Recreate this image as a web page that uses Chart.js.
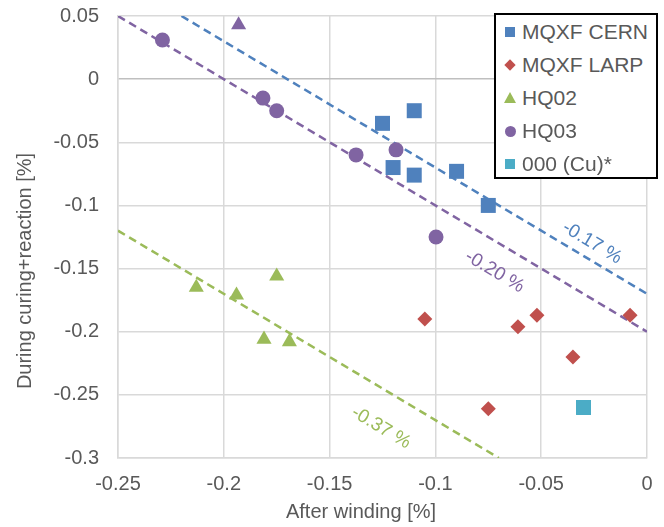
<!DOCTYPE html>
<html>
<head>
<meta charset="utf-8">
<script src="https://cdn.jsdelivr.net/npm/chart.js@4/dist/chart.umd.min.js"></script>
<style>
  html, body { margin: 0; padding: 0; background: #fff; }
  #wrap { position: relative; width: 664px; height: 527px; }
  #legend {
    position: absolute; left: 494px; top: 13px; width: 160px; height: 162px;
    border: 2px solid #000; background: #fff;
    font-family: "Liberation Sans", Arial, sans-serif; font-size: 21px; color: #595959;
  }
  #legend .row { position: relative; height: 33px; line-height: 33px; padding-left: 26px; white-space: nowrap; }
  #legend .mk { position: absolute; left: 9px; top: 50%; }
</style>
</head>
<body>
<div id="wrap">
  <canvas id="myChart" width="664" height="527"></canvas>
  <div id="legend"></div>
</div>
<script>
// series
const cernX = [-0.125, -0.110, -0.120, -0.110, -0.090, -0.075];
const cernY = [-0.035, -0.025, -0.070, -0.076, -0.073, -0.100];

const larpX = [-0.105, -0.061, -0.052, -0.008, -0.035, -0.075];
const larpY = [-0.190, -0.196, -0.187, -0.187, -0.220, -0.261];

const hq02X = [-0.213, -0.194, -0.175, -0.181, -0.169];
const hq02Y = [-0.165, -0.171, -0.156, -0.206, -0.208];

const hq03X = [-0.229, -0.1815, -0.175, -0.1375, -0.1186, -0.0997, -0.193];
const hq03Y = [0.031, -0.015, -0.025, -0.060, -0.056, -0.125, 0.043];

const cuX = [-0.030];
const cuY = [-0.260];

// trend lines (end points)
const trendCernX = [-0.22, 0];
const trendCernY = [0.05, -0.17];
const trendHq03X = [-0.25, 0];
const trendHq03Y = [0.05, -0.20];
const trendHq02X = [-0.25, -0.07];
const trendHq02Y = [-0.12, -0.30];

// trend labels
const trendLabels = ['-0.17 %', '-0.20 %', '-0.37 %'];
const trendLabelX = [-0.026, -0.072, -0.1257];
const trendLabelY = [-0.1296, -0.1525, -0.276];

// ticks
const xTickValues = [-0.25, -0.2, -0.15, -0.1, -0.05, 0];
const xTickLabels = ['-0.25', '-0.2', '-0.15', '-0.1', '-0.05', '0'];
const yTickValues = [-0.3, -0.25, -0.2, -0.15, -0.1, -0.05, 0, 0.05];
const yTickLabels = ['-0.3', '-0.25', '-0.2', '-0.15', '-0.1', '-0.05', '0', '0.05'];

const blue = '#4F81BD', red = '#C0504D', green = '#9BBB59', purple = '#8064A2', cyan = '#4BACC6';
const FONT = '"Liberation Sans", Arial, sans-serif';
const TXT = '#595959';

function pts(xs, ys) {
  return xs.map(function(x, i) { return {x: x, y: ys[i]}; });
}

function marker(label, xs, ys, color, style, radius) {
  return {
    label: label,
    data: pts(xs, ys),
    showLine: false,
    pointStyle: style,
    pointRadius: radius,
    pointHoverRadius: radius,
    backgroundColor: color,
    borderColor: color,
    borderWidth: 0,
    order: 0
  };
}

function trend(xs, ys, color) {
  return {
    label: 'trend',
    data: pts(xs, ys),
    showLine: true,
    pointRadius: 0,
    borderColor: color,
    borderWidth: 2.5,
    borderDash: [8, 5],
    fill: false,
    order: 10
  };
}

const hq03Styles = hq03X.map(function(x, i) { return i === 6 ? 'triangle' : 'circle'; });
const hq03Radius = hq03X.map(function(x, i) { return i === 6 ? 8.7 : 7.5; });

const legendItems = [
  {label: 'MQXF CERN', color: blue, shape: 'square'},
  {label: 'MQXF LARP', color: red, shape: 'diamond'},
  {label: 'HQ02', color: green, shape: 'triangle'},
  {label: 'HQ03', color: purple, shape: 'circle'},
  {label: '000 (Cu)*', color: cyan, shape: 'square'}
];

const data = {
  datasets: [
    marker('MQXF CERN', cernX, cernY, blue, 'rect', 10.6),
    marker('MQXF LARP', larpX, larpY, red, 'rectRot', 7.5),
    marker('HQ02', hq02X, hq02Y, green, 'triangle', 8.7),
    marker('HQ03', hq03X, hq03Y, purple, hq03Styles, hq03Radius),
    marker('000 (Cu)*', cuX, cuY, cyan, 'rect', 10.6),
    trend(trendCernX, trendCernY, blue),
    trend(trendHq03X, trendHq03Y, purple),
    trend(trendHq02X, trendHq02Y, green)
  ]
};

// text along trend lines + axis titles
const annotations = {
  id: 'annotations',
  afterDatasetsDraw: function(chart) {
    const ctx = chart.ctx, xs = chart.scales.x, ys = chart.scales.y;
    const lines = [[trendCernX, trendCernY, blue], [trendHq03X, trendHq03Y, purple], [trendHq02X, trendHq02Y, green]];
    ctx.save();
    ctx.font = '19px ' + FONT;
    ctx.textAlign = 'center';
    ctx.textBaseline = 'middle';
    lines.forEach(function(l, i) {
      const dx = xs.getPixelForValue(l[0][1]) - xs.getPixelForValue(l[0][0]);
      const dy = ys.getPixelForValue(l[1][1]) - ys.getPixelForValue(l[1][0]);
      ctx.save();
      ctx.translate(xs.getPixelForValue(trendLabelX[i]), ys.getPixelForValue(trendLabelY[i]));
      ctx.rotate(Math.atan2(dy, dx));
      ctx.fillStyle = l[2];
      ctx.fillText(trendLabels[i], 0, 0);
      ctx.restore();
    });
    ctx.fillStyle = TXT;
    ctx.font = '20px ' + FONT;
    ctx.fillText('After winding [%]', 361, 512);
    ctx.translate(25, 271);
    ctx.rotate(-Math.PI / 2);
    ctx.fillText('During curing+reaction [%]', 0, 0);
    ctx.restore();
  }
};

const config = {
  type: 'scatter',
  data: data,
  options: {
    responsive: false,
    animation: false,
    layout: {
      padding: {left: 0, right: 17, top: 16, bottom: 0}
    },
    plugins: {
      legend: false,
      tooltip: {enabled: false}
    },
    scales: {
      x: {
        type: 'linear',
        min: -0.25,
        max: 0,
        afterFit: function(s) { s.height = 69; s.paddingLeft = 0; s.paddingRight = 0; },
        afterBuildTicks: function(s) { s.ticks = xTickValues.map(function(v) { return {value: v}; }); },
        ticks: {
          padding: 14,
          color: TXT,
          font: {family: FONT, size: 20},
          callback: function(v, i) { return xTickLabels[i]; }
        },
        grid: {color: '#d9d9d9', lineWidth: 1.5, drawTicks: false},
        border: {color: '#d9d9d9', width: 1.5}
      },
      y: {
        type: 'linear',
        min: -0.3,
        max: 0.05,
        afterFit: function(s) { s.width = 118; s.paddingTop = 0; s.paddingBottom = 0; },
        afterBuildTicks: function(s) { s.ticks = yTickValues.map(function(v) { return {value: v}; }); },
        ticks: {
          padding: 19,
          color: TXT,
          font: {family: FONT, size: 20},
          callback: function(v, i) { return yTickLabels[i]; }
        },
        grid: {
          color: function(c) { return c.tick && c.tick.value === 0 ? '#bfbfbf' : '#d9d9d9'; },
          lineWidth: 1.5,
          drawTicks: false
        },
        border: {color: '#d9d9d9', width: 1.5}
      }
    }
  },
  plugins: [annotations]
};

const myChart = new Chart(document.getElementById('myChart'), config);

// legend box
const legendEl = document.getElementById('legend');
legendItems.forEach(function(item) {
  const row = document.createElement('div');
  row.className = 'row';
  const mk = document.createElement('span');
  mk.className = 'mk';
  if (item.shape === 'square') {
    mk.style.cssText += 'width:10px;height:10px;margin-top:-5px;background:' + item.color;
  } else if (item.shape === 'diamond') {
    mk.style.cssText += 'width:8px;height:8px;margin-top:-4px;left:10px;transform:rotate(45deg);background:' + item.color;
  } else if (item.shape === 'triangle') {
    mk.style.cssText += 'width:0;height:0;margin-top:-6px;left:8px;border-left:6px solid transparent;border-right:6px solid transparent;border-bottom:11px solid ' + item.color;
  } else {
    mk.style.cssText += 'width:11px;height:11px;margin-top:-5px;border-radius:50%;background:' + item.color;
  }
  row.appendChild(mk);
  row.appendChild(document.createTextNode(item.label));
  legendEl.appendChild(row);
});
</script>
</body>
</html>
